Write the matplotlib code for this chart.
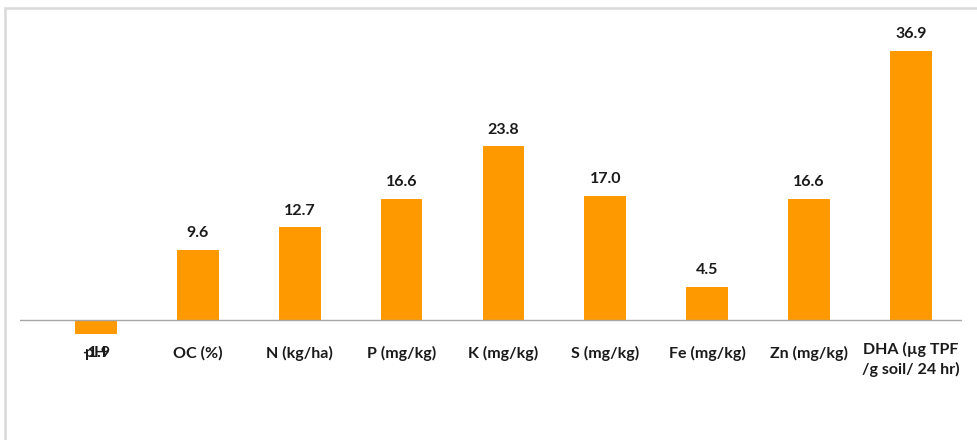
import matplotlib.pyplot as plt
from matplotlib.patches import Rectangle

params = ['pH', 'OC (%)', 'N (kg/ha)', 'P (mg/kg)', 'K (mg/kg)', 'S (mg/kg)',
          'Fe (mg/kg)', 'Zn (mg/kg)', 'DHA (µg TPF\n/g soil/ 24 hr)']
change = [-1.9, 9.6, 12.7, 16.6, 23.8, 17.0, 4.5, 16.6, 36.9]

plt.rcParams['font.family'] = ['Lato', 'DejaVu Sans']

W, H = 978, 440
fig = plt.figure(figsize=(W / 100, H / 100), dpi=100)

# light grey chart border (top and left edges only visible)
fig.patches.append(Rectangle((5 / W, -0.1), 1.2, (H - 8) / H + 0.1,
                             transform=fig.transFigure, fill=False,
                             edgecolor='#d9d9d9', linewidth=1.8))

ax = fig.add_axes([20 / W, 1 - 340 / H, (962 - 20) / W, 320 / H])
x = list(range(len(params)))
ax.bar(x, change, width=0.41, color='#ff9900', zorder=2)
ax.axhline(0, color='#a6a6a6', linewidth=1.0, zorder=3)

ax.set_xlim(-0.745, 8.5)
ax.set_ylim(-20 / 7.29, 300 / 7.29)
ax.set_yticks([])
ax.set_xticks([])
for s in ax.spines.values():
    s.set_visible(False)
ax.patch.set_alpha(0)

txt = dict(fontsize=11.5, fontweight='bold', color='#1a1a1a')

# category labels under the axis
for xi, name in zip(x, params):
    if '\n' in name:
        ax.annotate(name, (xi, 0), xytext=(0, -16), textcoords='offset points',
                    ha='center', va='top', linespacing=1.4, **txt)
    else:
        ax.annotate(name, (xi, 0), xytext=(0, -24), textcoords='offset points',
                    ha='center', va='center', **txt)

# value labels (negative one sits below the axis, as the chart tool drew it)
for xi, v in zip(x, change):
    if v >= 0:
        ax.annotate(f'{v:.1f}', (xi, v), xytext=(0, 7), textcoords='offset points',
                    ha='center', va='bottom', **txt)
    else:
        ax.annotate(f'{v:.1f}', (xi, 0), xytext=(0, -24), textcoords='offset points',
                    ha='center', va='center', **txt)

fig.savefig('out.png', dpi=100, facecolor='white')
